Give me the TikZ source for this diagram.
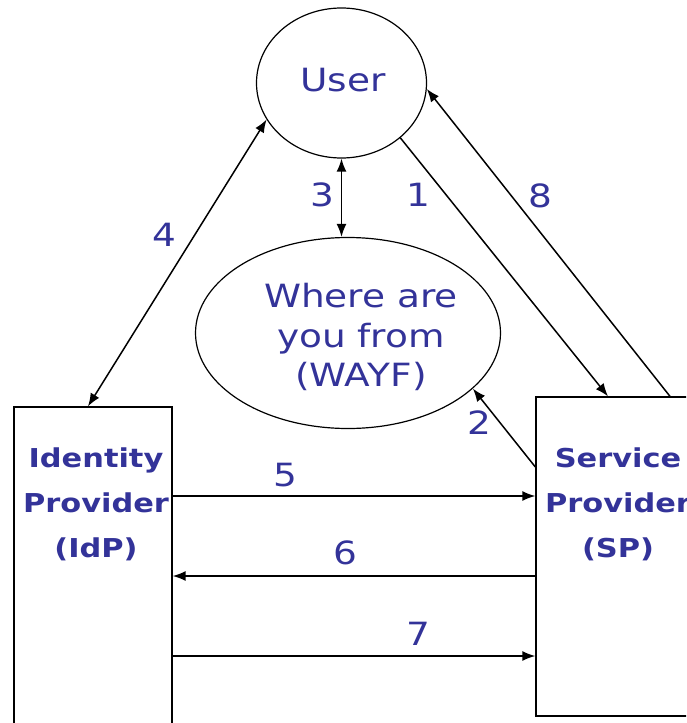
\documentclass[tikz,border=0pt]{standalone}
\usepackage{fontspec}
\setmainfont{DejaVu Sans}[FakeStretch=1.17]
\usetikzlibrary{shapes.geometric,arrows.meta}
\definecolor{txtblue}{RGB}{51,51,153}
\tikzset{
  lbl/.style={text=txtblue,font=\fontsize{32}{39.5}\selectfont,inner sep=0pt},
  boldlbl/.style={text=txtblue,font=\fontsize{26}{45}\selectfont\bfseries,inner sep=0pt,align=center},
  oval/.style={draw,line width=1.2pt,ellipse,inner sep=0pt},
  boxx/.style={draw,line width=1.3pt,rectangle,inner sep=0pt},
  arr/.style={line width=1.5pt,-{Latex[length=13pt,width=10pt]}},
  darr/.style={line width=1.5pt,{Latex[length=13pt,width=10pt]}-{Latex[length=13pt,width=10pt]}},
}
\begin{document}
\begin{tikzpicture}[x=1pt,y=-1pt]
\useasboundingbox (0,0) rectangle (686,723);
\clip (0,0) rectangle (686,723);
% shapes
\node[oval,minimum width=170pt,minimum height=150pt] (user) at (341.5,83) {};
\node[lbl] (usertxt) at (343,80) {User};
\node[oval,minimum width=305pt,minimum height=191pt] (wayf) at (348,333) {};
\node[lbl,align=center] (wayftxt) at (361,337) {Where are\\you from\\(WAYF)};
\node[boxx,minimum width=158pt,minimum height=353pt] (idp) at (93,583.5) {};
\node[boldlbl] (idptxt) at (96,504) {Identity\\Provider\\(IdP)};
\node[boxx,minimum width=164pt,minimum height=319pt] (sp) at (618,556.5) {};
\node[boldlbl] (sptxt) at (618,504) {Service\\Provider\\(SP)};
% helper coordinates
\coordinate (x4) at (88,0);
\coordinate (x1) at (608,0);
\coordinate (x8) at (670,0);
\coordinate (y2) at (0,467);
\coordinate (y5) at (0,496);
\coordinate (y6) at (0,576);
\coordinate (y7) at (0,656);
% connectors
\draw[darr] (idp.north -| x4) -- (user.206);
\draw[darr] (user.south) -- (user.south |- wayf.north);
\draw[arr] (user.317.7) -- (sp.north -| x1);
\draw[arr] (sp.north -| x8) -- (user.356);
\draw[arr] (sp.west |- y2) -- (wayf.336.7);
\draw[arr] (idp.east |- y5) -- (sp.west |- y5);
\draw[arr] (sp.west |- y6) -- (idp.east |- y6);
\draw[arr] (idp.east |- y7) -- (sp.west |- y7);
% labels
\node[lbl] (n4) at (164,235) {4};
\node[lbl] (n3) at (322,195) {3};
\node[lbl] (n1) at (418,195) {1};
\node[lbl] (n8) at (540,196) {8};
\node[lbl] (n2) at (479,423) {2};
\node[lbl] (n5) at (285,475) {5};
\node[lbl] (n6) at (345,553) {6};
\node[lbl] (n7) at (418,634) {7};
\end{tikzpicture}
\end{document}
